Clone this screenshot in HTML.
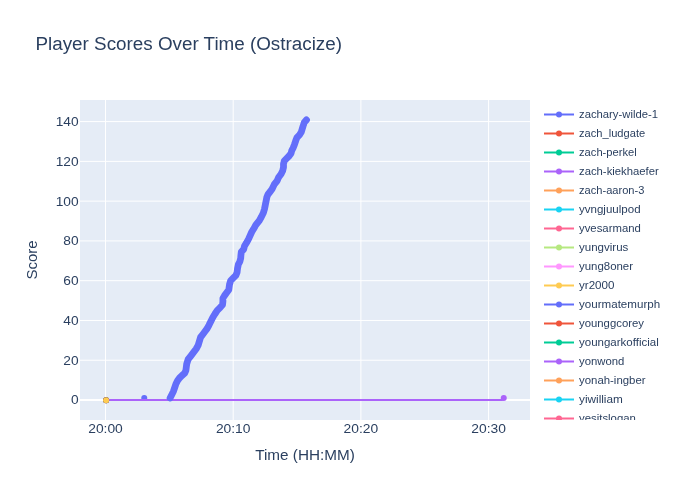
<!DOCTYPE html>
<html><head><meta charset="utf-8"><style>
html,body{margin:0;padding:0;background:#fff;width:700px;height:500px;overflow:hidden}
svg{display:block;will-change:transform}
text{font-family:"Liberation Sans", sans-serif;fill:#2a3f5f}
</style></head><body>
<svg width="700" height="500" viewBox="0 0 700 500">
<rect x="0" y="0" width="700" height="500" fill="#fff"/>
<rect x="80" y="100" width="450" height="320" fill="#E5ECF6"/>

<path d="M105.5,100V420M233.2,100V420M360.9,100V420M488.6,100V420M80,360.23H530M80,320.46H530M80,280.69H530M80,240.91H530M80,201.14H530M80,161.37H530M80,121.6H530" stroke="#fff" stroke-width="1" fill="none"/>
<path d="M80,400H530" stroke="#fff" stroke-width="2" fill="none"/>
<circle cx="144.25" cy="398" r="3" fill="#636efa"/>
<path d="M106,400H502L503.75,398" stroke="#ab63fa" stroke-width="2" fill="none"/>
<circle cx="503.75" cy="398" r="3" fill="#ab63fa"/>
<circle cx="106.1" cy="400.2" r="3" fill="#636efa"/><circle cx="106.1" cy="400.2" r="3" fill="#EF553B"/><circle cx="106.1" cy="400.2" r="3" fill="#2a3f5f"/><circle cx="106.1" cy="400.2" r="3" fill="#FECB52"/>
<path d="M169.6,398.0L171.4,394.4L173,391.2L174.2,387.6L175.4,384L177,380.8L179,378L181.4,375.6L184.2,373.2L185.4,370.4L185.8,367.2L186.2,364L187.6,359.4L190.4,355.8L193.2,352.2L195.6,349L197.6,345.4L198.8,341.4L200,337.4L202.4,334.2L204.8,331L206.6,328.6L208.4,325.3L210.4,321.2L212.4,317.2L214.4,314L216.8,310.4L219.6,307.6L222,304.8L222.4,301.6L222.4,298.4L224,295.6L226.3,292.5L228.3,289.7L229,284.6L230.2,280.6L232.6,278.2L235.4,275.4L236.6,272.2L237,268.6L237.8,264.6L239.4,261.4L240.2,258.2L240.4,255.3L240.8,252L243.2,249.2L244,246L246,242.8L248,239.2L249.6,235.6L251.2,232L253.2,228.8L255.2,225.2L258.8,220.6L260.8,217L262.8,213L264,209L264.8,205L265.6,201L266.4,197L267.6,194.2L269.6,191.8L271.6,189L273.8,184.4L276.6,180.8L278.2,177.2L280.6,174L282.2,170.8L283,167.2L283,164L283.8,160.8L286.2,158.4L288.6,156L290.6,153.2L291.2,150.8L292.6,148L294,144.4L295.2,140.8L296.4,137.6L298.8,135.2L300.8,132L301.7,129L302.6,126L303.9,122.2L306.0,119.9" stroke="#636efa" stroke-width="6.8" transform="translate(0.5,0)" stroke-linejoin="round" stroke-linecap="round" fill="none"/>
<text x="78.6" y="404.4" font-size="12.7" text-anchor="end" textLength="7.64" lengthAdjust="spacingAndGlyphs">0</text>
<text x="78.6" y="364.63" font-size="12.7" text-anchor="end" textLength="15.28" lengthAdjust="spacingAndGlyphs">20</text>
<text x="78.6" y="324.86" font-size="12.7" text-anchor="end" textLength="15.28" lengthAdjust="spacingAndGlyphs">40</text>
<text x="78.6" y="285.09" font-size="12.7" text-anchor="end" textLength="15.28" lengthAdjust="spacingAndGlyphs">60</text>
<text x="78.6" y="245.31" font-size="12.7" text-anchor="end" textLength="15.28" lengthAdjust="spacingAndGlyphs">80</text>
<text x="78.6" y="205.54" font-size="12.7" text-anchor="end" textLength="22.92" lengthAdjust="spacingAndGlyphs">100</text>
<text x="78.6" y="165.77" font-size="12.7" text-anchor="end" textLength="22.92" lengthAdjust="spacingAndGlyphs">120</text>
<text x="78.6" y="126.0" font-size="12.7" text-anchor="end" textLength="22.92" lengthAdjust="spacingAndGlyphs">140</text>
<text x="105.5" y="433" font-size="12.7" text-anchor="middle" textLength="34.61" lengthAdjust="spacingAndGlyphs">20:00</text>
<text x="233.2" y="433" font-size="12.7" text-anchor="middle" textLength="34.61" lengthAdjust="spacingAndGlyphs">20:10</text>
<text x="360.9" y="433" font-size="12.7" text-anchor="middle" textLength="34.61" lengthAdjust="spacingAndGlyphs">20:20</text>
<text x="488.6" y="433" font-size="12.7" text-anchor="middle" textLength="34.61" lengthAdjust="spacingAndGlyphs">20:30</text>
<text x="35.5" y="49.7" font-size="18" text-anchor="start" textLength="306.47" lengthAdjust="spacingAndGlyphs">Player Scores Over Time (Ostracize)</text>
<text x="305" y="460" font-size="14.8" text-anchor="middle" textLength="99.58" lengthAdjust="spacingAndGlyphs">Time (HH:MM)</text>
<g transform="translate(37,260) rotate(-90)"><text x="0" y="0" font-size="14.8" text-anchor="middle" textLength="39.2" lengthAdjust="spacingAndGlyphs">Score</text></g>
<defs><clipPath id="lc"><rect x="530" y="100" width="170" height="320"/></clipPath></defs>
<g clip-path="url(#lc)">
<path d="M544,114.5H574" stroke="#636efa" stroke-width="2"/>
<circle cx="559" cy="114.5" r="3" fill="#636efa"/>
<text x="579" y="117.95" font-size="10.6" text-anchor="start" textLength="79.02" lengthAdjust="spacingAndGlyphs">zachary-wilde-1</text>
<path d="M544,133.5H574" stroke="#EF553B" stroke-width="2"/>
<circle cx="559" cy="133.5" r="3" fill="#EF553B"/>
<text x="579" y="136.95" font-size="10.6" text-anchor="start" textLength="66.23" lengthAdjust="spacingAndGlyphs">zach_ludgate</text>
<path d="M544,152.5H574" stroke="#00cc96" stroke-width="2"/>
<circle cx="559" cy="152.5" r="3" fill="#00cc96"/>
<text x="579" y="155.95" font-size="10.6" text-anchor="start" textLength="57.81" lengthAdjust="spacingAndGlyphs">zach-perkel</text>
<path d="M544,171.5H574" stroke="#ab63fa" stroke-width="2"/>
<circle cx="559" cy="171.5" r="3" fill="#ab63fa"/>
<text x="579" y="174.95" font-size="10.6" text-anchor="start" textLength="79.77" lengthAdjust="spacingAndGlyphs">zach-kiekhaefer</text>
<path d="M544,190.5H574" stroke="#FFA15A" stroke-width="2"/>
<circle cx="559" cy="190.5" r="3" fill="#FFA15A"/>
<text x="579" y="193.95" font-size="10.6" text-anchor="start" textLength="65.41" lengthAdjust="spacingAndGlyphs">zach-aaron-3</text>
<path d="M544,209.5H574" stroke="#19d3f3" stroke-width="2"/>
<circle cx="559" cy="209.5" r="3" fill="#19d3f3"/>
<text x="579" y="212.95" font-size="10.6" text-anchor="start" textLength="61.59" lengthAdjust="spacingAndGlyphs">yvngjuulpod</text>
<path d="M544,228.5H574" stroke="#FF6692" stroke-width="2"/>
<circle cx="559" cy="228.5" r="3" fill="#FF6692"/>
<text x="579" y="231.95" font-size="10.6" text-anchor="start" textLength="61.81" lengthAdjust="spacingAndGlyphs">yvesarmand</text>
<path d="M544,247.5H574" stroke="#B6E880" stroke-width="2"/>
<circle cx="559" cy="247.5" r="3" fill="#B6E880"/>
<text x="579" y="250.95" font-size="10.6" text-anchor="start" textLength="49.31" lengthAdjust="spacingAndGlyphs">yungvirus</text>
<path d="M544,266.5H574" stroke="#FF97FF" stroke-width="2"/>
<circle cx="559" cy="266.5" r="3" fill="#FF97FF"/>
<text x="579" y="269.95" font-size="10.6" text-anchor="start" textLength="54.05" lengthAdjust="spacingAndGlyphs">yung8oner</text>
<path d="M544,285.5H574" stroke="#FECB52" stroke-width="2"/>
<circle cx="559" cy="285.5" r="3" fill="#FECB52"/>
<text x="579" y="288.95" font-size="10.6" text-anchor="start" textLength="35.47" lengthAdjust="spacingAndGlyphs">yr2000</text>
<path d="M544,304.5H574" stroke="#636efa" stroke-width="2"/>
<circle cx="559" cy="304.5" r="3" fill="#636efa"/>
<text x="579" y="307.95" font-size="10.6" text-anchor="start" textLength="81.14" lengthAdjust="spacingAndGlyphs">yourmatemurph</text>
<path d="M544,323.5H574" stroke="#EF553B" stroke-width="2"/>
<circle cx="559" cy="323.5" r="3" fill="#EF553B"/>
<text x="579" y="326.95" font-size="10.6" text-anchor="start" textLength="65.02" lengthAdjust="spacingAndGlyphs">younggcorey</text>
<path d="M544,342.5H574" stroke="#00cc96" stroke-width="2"/>
<circle cx="559" cy="342.5" r="3" fill="#00cc96"/>
<text x="579" y="345.95" font-size="10.6" text-anchor="start" textLength="79.73" lengthAdjust="spacingAndGlyphs">youngarkofficial</text>
<path d="M544,361.5H574" stroke="#ab63fa" stroke-width="2"/>
<circle cx="559" cy="361.5" r="3" fill="#ab63fa"/>
<text x="579" y="364.95" font-size="10.6" text-anchor="start" textLength="45.38" lengthAdjust="spacingAndGlyphs">yonwond</text>
<path d="M544,380.5H574" stroke="#FFA15A" stroke-width="2"/>
<circle cx="559" cy="380.5" r="3" fill="#FFA15A"/>
<text x="579" y="383.95" font-size="10.6" text-anchor="start" textLength="66.55" lengthAdjust="spacingAndGlyphs">yonah-ingber</text>
<path d="M544,399.5H574" stroke="#19d3f3" stroke-width="2"/>
<circle cx="559" cy="399.5" r="3" fill="#19d3f3"/>
<text x="579" y="402.95" font-size="10.6" text-anchor="start" textLength="43.86" lengthAdjust="spacingAndGlyphs">yiwilliam</text>
<path d="M544,418.5H574" stroke="#FF6692" stroke-width="2"/>
<circle cx="559" cy="418.5" r="3" fill="#FF6692"/>
<text x="579" y="421.95" font-size="10.6" text-anchor="start" textLength="56.91" lengthAdjust="spacingAndGlyphs">yesitslogan</text>
</g>
</svg></body></html>
